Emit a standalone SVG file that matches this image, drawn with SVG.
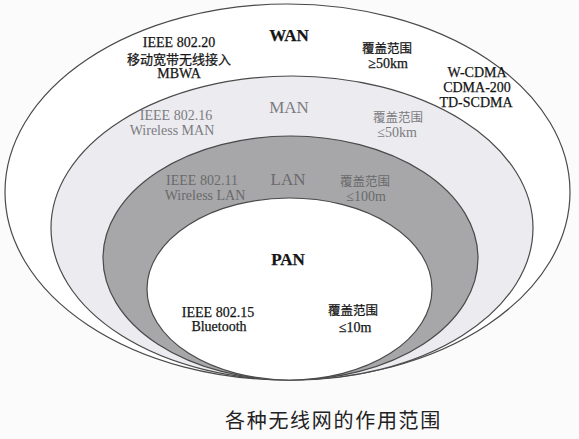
<svg xmlns="http://www.w3.org/2000/svg" width="579" height="439" viewBox="0 0 579 439">
<style>
.ring{stroke:#4a4a4a;stroke-width:1.2}
text{font-family:"Liberation Serif","Noto Sans CJK SC",serif;text-anchor:middle;font-size:14px}
.cjk{font-family:"Noto Sans CJK SC","Liberation Serif",sans-serif;font-size:12.5px}
.big{font-size:17px;font-weight:bold}
.dark{fill:#151515;stroke:#151515;stroke-width:0.25}
.mgray{fill:#7c7c80}
.lgray{fill:#6a6a6c}
.cap{font-family:"Noto Sans CJK SC",sans-serif;font-size:20px;text-anchor:start;letter-spacing:1.7px;fill:#222}
</style>
<rect width="579" height="439" fill="#fbfbfb"/>
<g id="WAN">
<ellipse class="ring" cx="287.5" cy="192" rx="282.5" ry="188" fill="#ffffff"/>
<text class="big dark" x="289" y="41">WAN</text>
<text class="dark" x="179" y="47">IEEE 802.20</text>
<text class="cjk dark" x="179" y="63.5" style="font-size:13px">移动宽带无线接入</text>
<text class="dark" x="179" y="78">MBWA</text>
<text class="cjk dark" x="387" y="53">覆盖范围</text>
<text class="dark" x="388" y="68">≥50km</text>
<text class="dark" x="477" y="77">W-CDMA</text>
<text class="dark" x="477" y="92">CDMA-200</text>
<text class="dark" x="476" y="107">TD-SCDMA</text>
</g>
<g id="MAN">
<ellipse class="ring" cx="292" cy="228" rx="241" ry="152" fill="#ebebf0"/>
<text class="big mgray" x="289" y="113" style="font-weight:normal">MAN</text>
<text class="mgray" x="176" y="120">IEEE 802.16</text>
<text class="mgray" x="172" y="135">Wireless MAN</text>
<text class="cjk mgray" x="398" y="122">覆盖范围</text>
<text class="mgray" x="397" y="137">≤50km</text>
</g>
<g id="LAN">
<ellipse class="ring" cx="290.5" cy="258" rx="187.5" ry="122" fill="#a7a7a9"/>
<text class="big lgray" x="288" y="185" style="font-weight:normal">LAN</text>
<text class="lgray" x="202" y="185">IEEE 802.11</text>
<text class="lgray" x="205" y="200">Wireless LAN</text>
<text class="cjk lgray" x="365" y="186">覆盖范围</text>
<text class="lgray" x="366" y="201">≤100m</text>
</g>
<g id="PAN">
<ellipse class="ring" cx="289.5" cy="289" rx="142.5" ry="91" fill="#ffffff"/>
<text class="big dark" x="288" y="265">PAN</text>
<text class="dark" x="218" y="317">IEEE 802.15</text>
<text class="dark" x="219" y="331">Bluetooth</text>
<text class="cjk dark" x="353" y="315">覆盖范围</text>
<text class="dark" x="355" y="332">≤10m</text>
</g>
<g id="connectors"/>
<text class="cap" x="225" y="428">各种无线网的作用范围</text>
</svg>
